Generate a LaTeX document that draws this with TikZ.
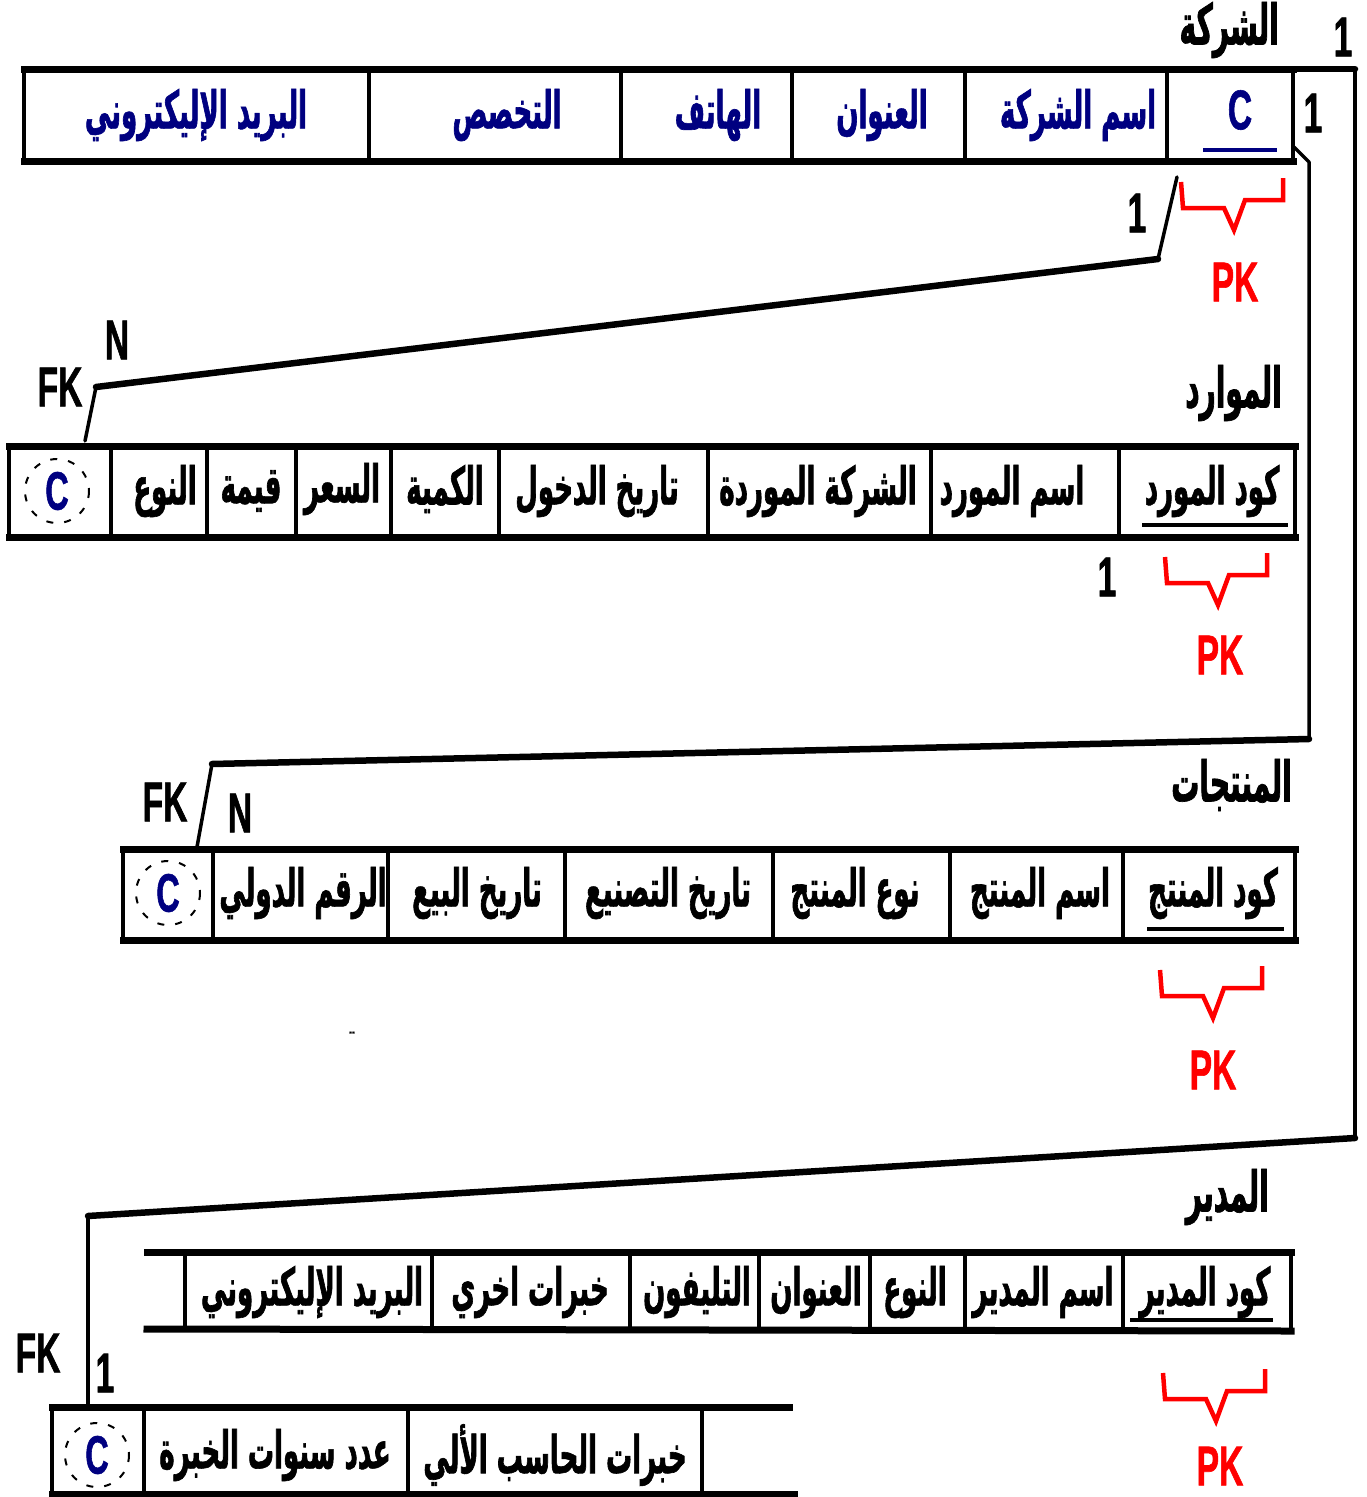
\documentclass[tikz,border=0pt]{standalone}
\usepackage{fontspec}
\TeXXeTstate=1
\newfontfamily\arabfont[Script=Arabic,FakeStretch=0.5,FakeBold=1.2]{DejaVu Sans}
\newfontfamily\latfont[FakeStretch=0.6,FakeBold=1]{Liberation Sans Bold}
\definecolor{keynavy}{RGB}{0,0,128}
\definecolor{pkred}{RGB}{255,0,0}
\newcommand{\AR}[1]{\beginR #1\endR}
\newcommand{\pkbrace}[2]{%
  \draw[pkbrace] (#1,#2) -- ++(2,26) -- ++(41,0) -- ++(10,22) -- ++(11,-30) -- ++(38,0) -- ++(0,-22);}
\tikzset{
  cellar/.style={inner sep=0pt, font=\arabfont\bfseries\fontsize{52}{56}\selectfont},
  cellnavy/.style={cellar, text=keynavy},
  titlear/.style={inner sep=0pt, anchor=east, font=\arabfont\bfseries\fontsize{56}{60}\selectfont},
  lbl/.style={inner sep=0pt, font=\latfont\fontsize{56}{60}\selectfont},
  pklbl/.style={lbl, text=pkred},
  ckey/.style={inner sep=0pt, text=keynavy, font=\latfont\fontsize{54}{58}\selectfont},
  edge/.style={line width=7pt, line cap=rect},
  side/.style={line width=3.5pt},
  hlink/.style={line width=6.5pt, line cap=round, line join=round},
  vlink/.style={line width=3.5pt, line cap=round, line join=round},
  pkbrace/.style={draw=pkred, line width=4.5pt, line join=miter},
  ring/.style={line width=2pt, dash pattern=on 7pt off 11pt},
  uline/.style={line width=4pt}
}
\begin{document}
\begin{tikzpicture}[x=1pt,y=-1pt]
\useasboundingbox (0,0) rectangle (1366,1497);

% ---------- table: company ----------
\node[titlear] (ttl1) at (1279,30) {\AR{الشركة}};
\draw[edge] (24,69) -- (1293,69);
\draw[edge] (24,161) -- (1293,161);
\foreach \x in {24,369,621,792,965,1167,1293} \draw[side] (\x,69) -- (\x,161);
\node[cellnavy] (co-mail) at (196,115) {\AR{البريد الإليكتروني}};
\node[cellnavy] (co-spec) at (507,115) {\AR{التخصص}};
\node[cellnavy] (co-tel)  at (718,115) {\AR{الهاتف}};
\node[cellnavy] (co-addr) at (882,115) {\AR{العنوان}};
\node[cellnavy] (co-name) at (1078,115) {\AR{اسم الشركة}};
\node[lbl, text=keynavy] (co-key) at (1240,110) {C};
\draw[uline, draw=keynavy, line width=4.5pt] (1203,150) -- (1277,150);

% ---------- table: suppliers ----------
\node[titlear] (ttl2) at (1282,393) {\AR{الموارد}};
\draw[edge] (9,446) -- (1295,446);
\draw[edge] (9,537) -- (1295,537);
\foreach \x in {9,111,207,296,391,499,708,931,1119,1295} \draw[side] (\x,446) -- (\x,537);
\node[ckey] (su-c) at (57,491) {C};
\draw[ring] (su-c) circle (32);
\node[cellar] (su-type)  at (165,491) {\AR{النوع}};
\node[cellar] (su-val)   at (251,491) {\AR{قيمة}};
\node[cellar] (su-price) at (342,489) {\AR{السعر}};
\node[cellar] (su-qty)   at (445,489) {\AR{الكمية}};
\node[cellar] (su-date)  at (597,491) {\AR{تاريخ الدخول}};
\node[cellar] (su-firm)  at (818,491) {\AR{الشركة الموردة}};
\node[cellar] (su-name)  at (1012,491) {\AR{اسم المورد}};
\node[cellar] (su-code)  at (1212,491) {\AR{كود المورد}};
\draw[uline] (1142,525) -- (1288,525);

% ---------- table: products ----------
\node[titlear] (ttl3) at (1292,785) {\AR{المنتجات}};
\draw[edge] (123,849) -- (1295,849);
\draw[edge] (123,940) -- (1295,940);
\foreach \x in {123,213,388,565,773,950,1123,1295} \draw[side] (\x,849) -- (\x,940);
\node[ckey] (pr-c) at (168,893) {C};
\draw[ring] (pr-c) circle (32);
\node[cellar] (pr-isbn) at (303,893) {\AR{الرقم الدولي}};
\node[cellar] (pr-sale) at (477,893) {\AR{تاريخ البيع}};
\node[cellar] (pr-make) at (668,893) {\AR{تاريخ التصنيع}};
\node[cellar] (pr-type) at (855,893) {\AR{نوع المنتج}};
\node[cellar] (pr-name) at (1040,893) {\AR{اسم المنتج}};
\node[cellar] (pr-code) at (1213,893) {\AR{كود المنتج}};
\draw[uline] (1147,929) -- (1284,929);
\node[inner sep=0pt, font=\latfont\fontsize{14}{14}\selectfont] (stray) at (352,1034) {--};

% ---------- table: manager ----------
\node[titlear] (ttl4) at (1269,1197) {\AR{المدير}};
\draw[edge] (147,1252) -- (1291,1252);
\draw[edge] (147,1329) -- (1291,1331);
\foreach \x in {185,432,630,759,870,965,1123,1291} \draw[side] (\x,1252) -- (\x,1331);
\node[cellar] (mg-mail) at (312,1292) {\AR{البريد الإليكتروني}};
\node[cellar] (mg-exp)  at (530,1292) {\AR{خبرات اخري}};
\node[cellar] (mg-tel)  at (697,1292) {\AR{التليفون}};
\node[cellar] (mg-addr) at (816,1292) {\AR{العنوان}};
\node[cellar] (mg-type) at (915,1292) {\AR{النوع}};
\node[cellar] (mg-name) at (1043,1292) {\AR{اسم المدير}};
\node[cellar] (mg-code) at (1205,1292) {\AR{كود المدير}};
\draw[uline] (1130,1320) -- (1273,1320);

% continuation row of the manager table
\draw[edge] (52,1407) -- (789,1407);
\draw[edge] (52,1494) -- (794,1494);
\foreach \x in {52,144,408,702} \draw[side] (\x,1407) -- (\x,1494);
\node[ckey] (mg-c) at (97,1455) {C};
\draw[ring] (mg-c) circle (32);
\node[cellar] (mg-years) at (275,1455) {\AR{عدد سنوات الخبرة}};
\node[cellar] (mg-comp)  at (555,1455) {\AR{خبرات الحاسب الألي}};

% ---------- primary keys ----------
\pkbrace{1181}{182}
\pkbrace{1165}{557}
\pkbrace{1160}{970}
\pkbrace{1163}{1373}
\node[pklbl] (pk1) at (1235,282) {PK};
\node[pklbl] (pk2) at (1220,655) {PK};
\node[pklbl] (pk3) at (1213,1070) {PK};
\node[pklbl] (pk4) at (1220,1466) {PK};

% ---------- relationships ----------
% company -> suppliers
\coordinate (a0) at (1177,177);
\coordinate (a1) at (1158,259);
\coordinate (a2) at (96,387);
\coordinate (a3) at (85,441);
\draw[vlink] (a0) -- (a1);
\draw[hlink] (a1) -- (a2);
\draw[vlink] (a2) -- (a3);
% company -> products
\coordinate (b0) at (1294,147);
\coordinate (b1) at (1309,162);
\coordinate (b2) at (1309,739);
\coordinate (b3) at (212,764);
\coordinate (b4) at (197,847);
\draw[vlink] (b0) -- (b1) -- (b2);
\draw[hlink] (b2) -- (b3);
\draw[vlink] (b3) -- (b4);
% company -> manager
\coordinate (c0) at (1293,69);
\coordinate (c1) at (1355,69);
\coordinate (c2) at (1355,1138);
\coordinate (c3) at (88,1216);
\coordinate (c4) at (88,1407);
\draw[hlink] (c0) -- (c1);
\draw[vlink] (c1) -- (c2);
\draw[hlink] (c2) -- (c3);
\draw[vlink] (c3) -- (c4);

% cardinalities and key labels
\node[lbl] (n1a) at (1343,37) {1};
\node[lbl] (n1b) at (1313,113) {1};
\node[lbl] (n1c) at (1137,213) {1};
\node[lbl] (n1d) at (1107,577) {1};
\node[lbl] (n1e) at (105,1373) {1};
\node[lbl] (nNa) at (117,340) {N};
\node[lbl] (nNb) at (240,813) {N};
\node[lbl] (fka) at (60,387) {FK};
\node[lbl] (fkb) at (165,802) {FK};
\node[lbl] (fkc) at (38,1353) {FK};
\end{tikzpicture}
\end{document}
